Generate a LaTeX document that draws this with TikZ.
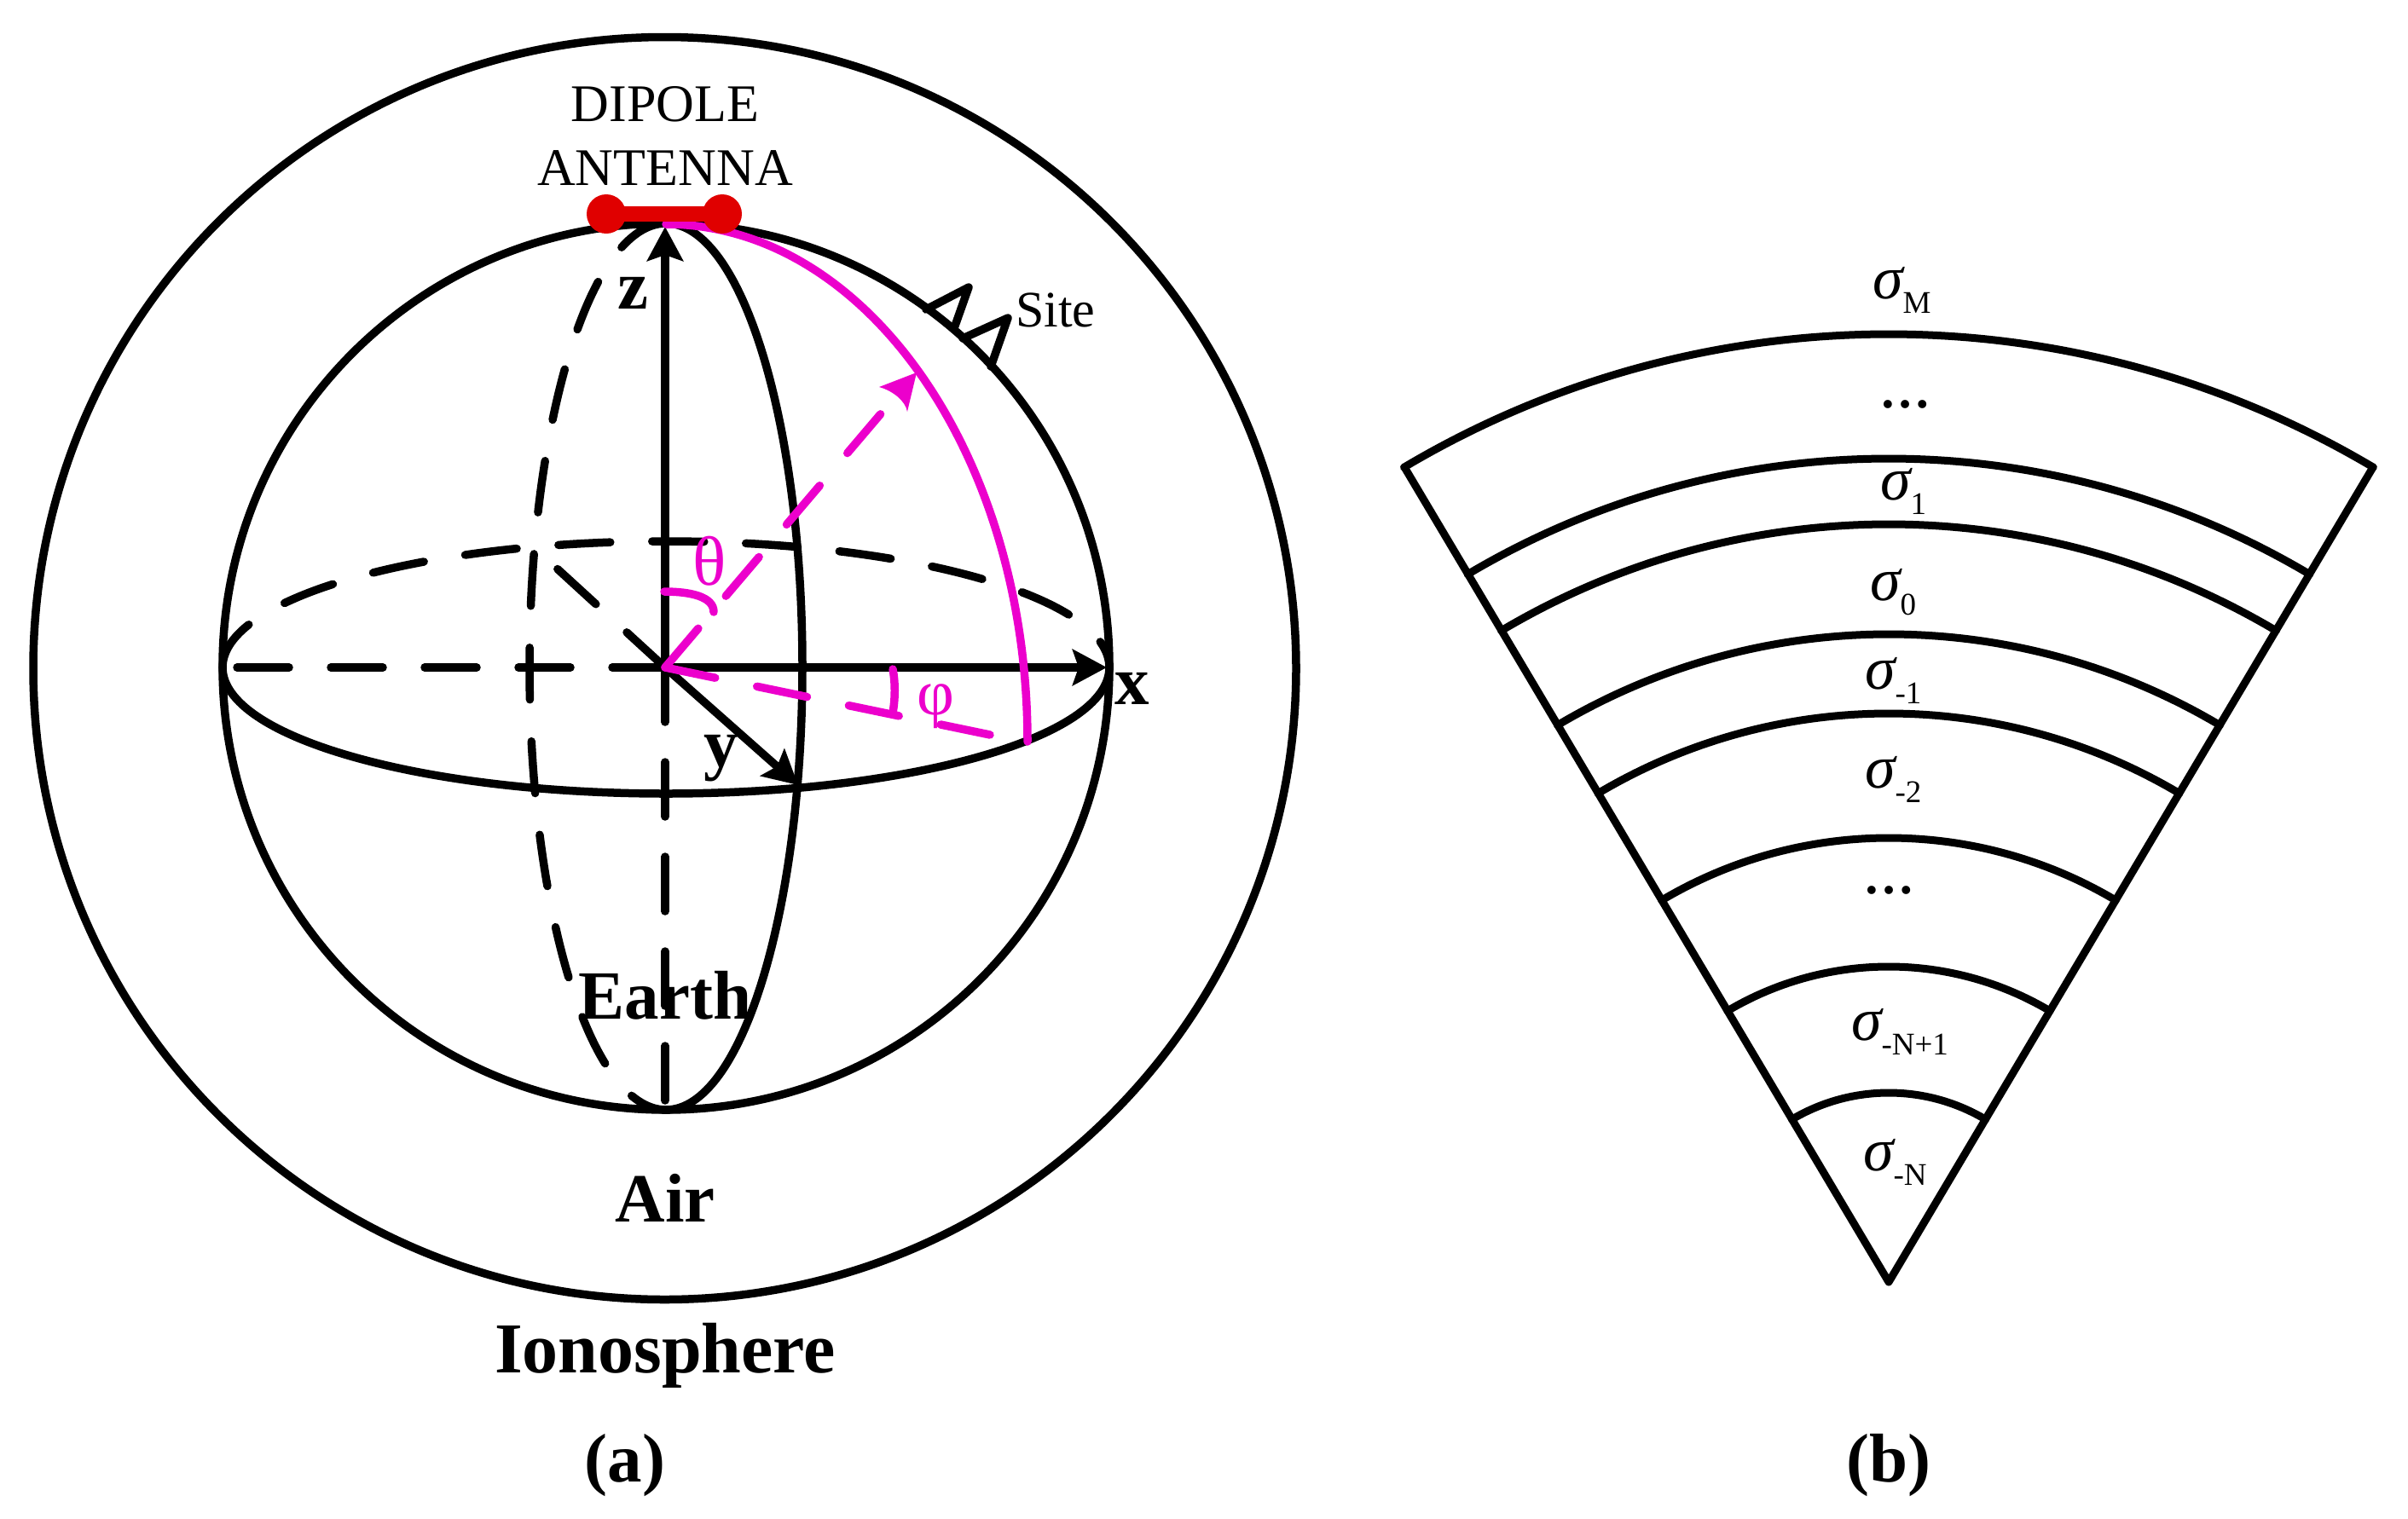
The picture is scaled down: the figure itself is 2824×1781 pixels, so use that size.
\documentclass[tikz,border=0pt]{standalone}
\usepackage{fontspec}
\setmainfont{Liberation Serif}
\usetikzlibrary{arrows.meta}
\definecolor{mag}{RGB}{236,0,204}
\definecolor{dipred}{RGB}{224,0,0}
\newcommand{\fs}[1]{\fontsize{#1}{#1}\selectfont}
\newcommand{\sgm}[1]{{\fs{72}\itshape σ}{\fs{37}\raisebox{-17pt}{#1}}}
\tikzset{
  x=1pt,y=-1pt,
  every node/.style={inner sep=0pt,outer sep=0pt,anchor=base},
  ln/.style={line width=9.5pt,line cap=round,line join=round},
  dsh/.style={ln,dash pattern=on 61pt off 49pt},
  mg/.style={ln,draw=mag},
  mgd/.style={mg,dash pattern=on 60pt off 50pt},
  ar/.style={-{Stealth[length=40pt,width=42pt,inset=7pt]}},
  big/.style={font=\fs{81}\bfseries},
  lay/.style={line width=9pt,line cap=round},
  sg/.style={anchor=base west},
  dots/.style={font=\fs{60}\bfseries},
}
\begin{document}
\begin{tikzpicture}
\useasboundingbox (0,0) rectangle (2824,1781);
\fill[white] (0,0) rectangle (2824,1781);
\coordinate (S) at (781,782);
\coordinate (O) at (780,783);
\coordinate (xt) at (1298,783);
\coordinate (xl) at (278,783);
\coordinate (el) at (261,783);
\coordinate (zt) at (780,266);
\coordinate (mt) at (781,262);
\coordinate (zb) at (780,1300);
\coordinate (yt) at (936,921);
\coordinate (yb) at (650,664);
\coordinate (tt) at (1075,437);
\coordinate (tb) at (1035,483);
\coordinate (pt) at (1161,862);
\coordinate (at) at (781,263);
% ionosphere and earth
\draw[ln] (779.5,784) circle[radius=740.5];
\draw[ln] (S) circle[radius=520];
% equator
\draw[ln] (el) arc[start angle=180,end angle=0,x radius=520,y radius=148];
\draw[dsh] (el) arc[start angle=180,end angle=360,x radius=520,y radius=148];
% meridian
\draw[ln] (mt) arc[start angle=270,end angle=450,x radius=160,y radius=520];
\draw[dsh] (mt) arc[start angle=270,end angle=90,x radius=160,y radius=520];
% axes
\draw[ln,ar] (O) -- (zt);
\draw[ln,ar] (O) -- (xt);
\draw[ln,ar] (O) -- (yt);
\draw[dsh] (xl) -- (O);
\draw[ln,dash pattern=on 64pt off 47pt] (O) -- (zb);
\draw[dsh] (O) -- (yb);
% magenta
\draw[mg] (at) arc[start angle=270,end angle=360,x radius=424,y radius=607];
\draw[mgd] (O) -- (tb);
\fill[mag] (tt) -- (1031,454) .. controls (1046,458) and (1062,470) .. (1064,483) -- cycle;
\draw[mgd] (O) -- (pt);
\draw[mg] (779,694) .. controls (810,694) and (837,700) .. (837,718);
\draw[mg] (1047,785) .. controls (1050,800) and (1050,820) .. (1047,836);
% site
\draw[ln] (1086,363) -- (1136,337) -- (1119,385);
\draw[ln] (1129,397) -- (1182,373) -- (1162,430);
% dipole
\draw[dipred,line width=18pt] (711,251) -- (847,251);
\fill[dipred] (711,251) circle[radius=23];
\fill[dipred] (847,251) circle[radius=23];
% labels
\node[font=\fs{62}] (dip) at (780,142) {DIPOLE};
\node[font=\fs{62}] (ant) at (780,217) {ANTENNA};
\node[font=\fs{60},anchor=base west] (site) at (1191,383) {Site};
\node[big] (zl) at (742,362) {z};
\node[big] (xlb) at (1328,826) {x};
\node[big] (ylb) at (846,899) {y};
\node[font=\fs{82},text=mag] (th) at (832,686) {θ};
\node[font=\fs{76},text=mag] (ph) at (1097,838) {φ};
\node[big] (earth) at (780,1195) {Earth};
\node[big] (air) at (780,1433) {Air};
\node[font=\fs{84}\bfseries] (iono) at (780,1610) {Ionosphere};
\node[big] (la) at (733,1738) {(a)};
\node[big] (lb) at (2215,1738) {(b)};
% sector
\coordinate (A) at (2215,1504);
\coordinate (SL) at (1647,548);
\coordinate (SR) at (2783,548);
\foreach \r in {1112,966,889,760,667,521,370,222}{
  \draw[lay] (2215-\r*0.5112,1504-\r*0.8595) arc[start angle=239.26,end angle=300.74,radius=\r];
}
\draw[lay,line join=round] (SL) -- (A) -- (SR);
\node[sg] (s1) at (2196,350) {\sgm{M}};
\node[dots] (d1) at (2234,478) {…};
\node[sg] (s2) at (2205,586) {\sgm{1}};
\node[sg] (s3) at (2193,704) {\sgm{0}};
\node[sg] (s4) at (2187,808) {\sgm{-1}};
\node[sg] (s5) at (2187,924) {\sgm{-2}};
\node[dots] (d2) at (2215,1048) {…};
\node[sg] (s6) at (2171,1220) {\sgm{-N+1}};
\node[sg] (s7) at (2185,1373) {\sgm{-N}};
\end{tikzpicture}
\end{document}
